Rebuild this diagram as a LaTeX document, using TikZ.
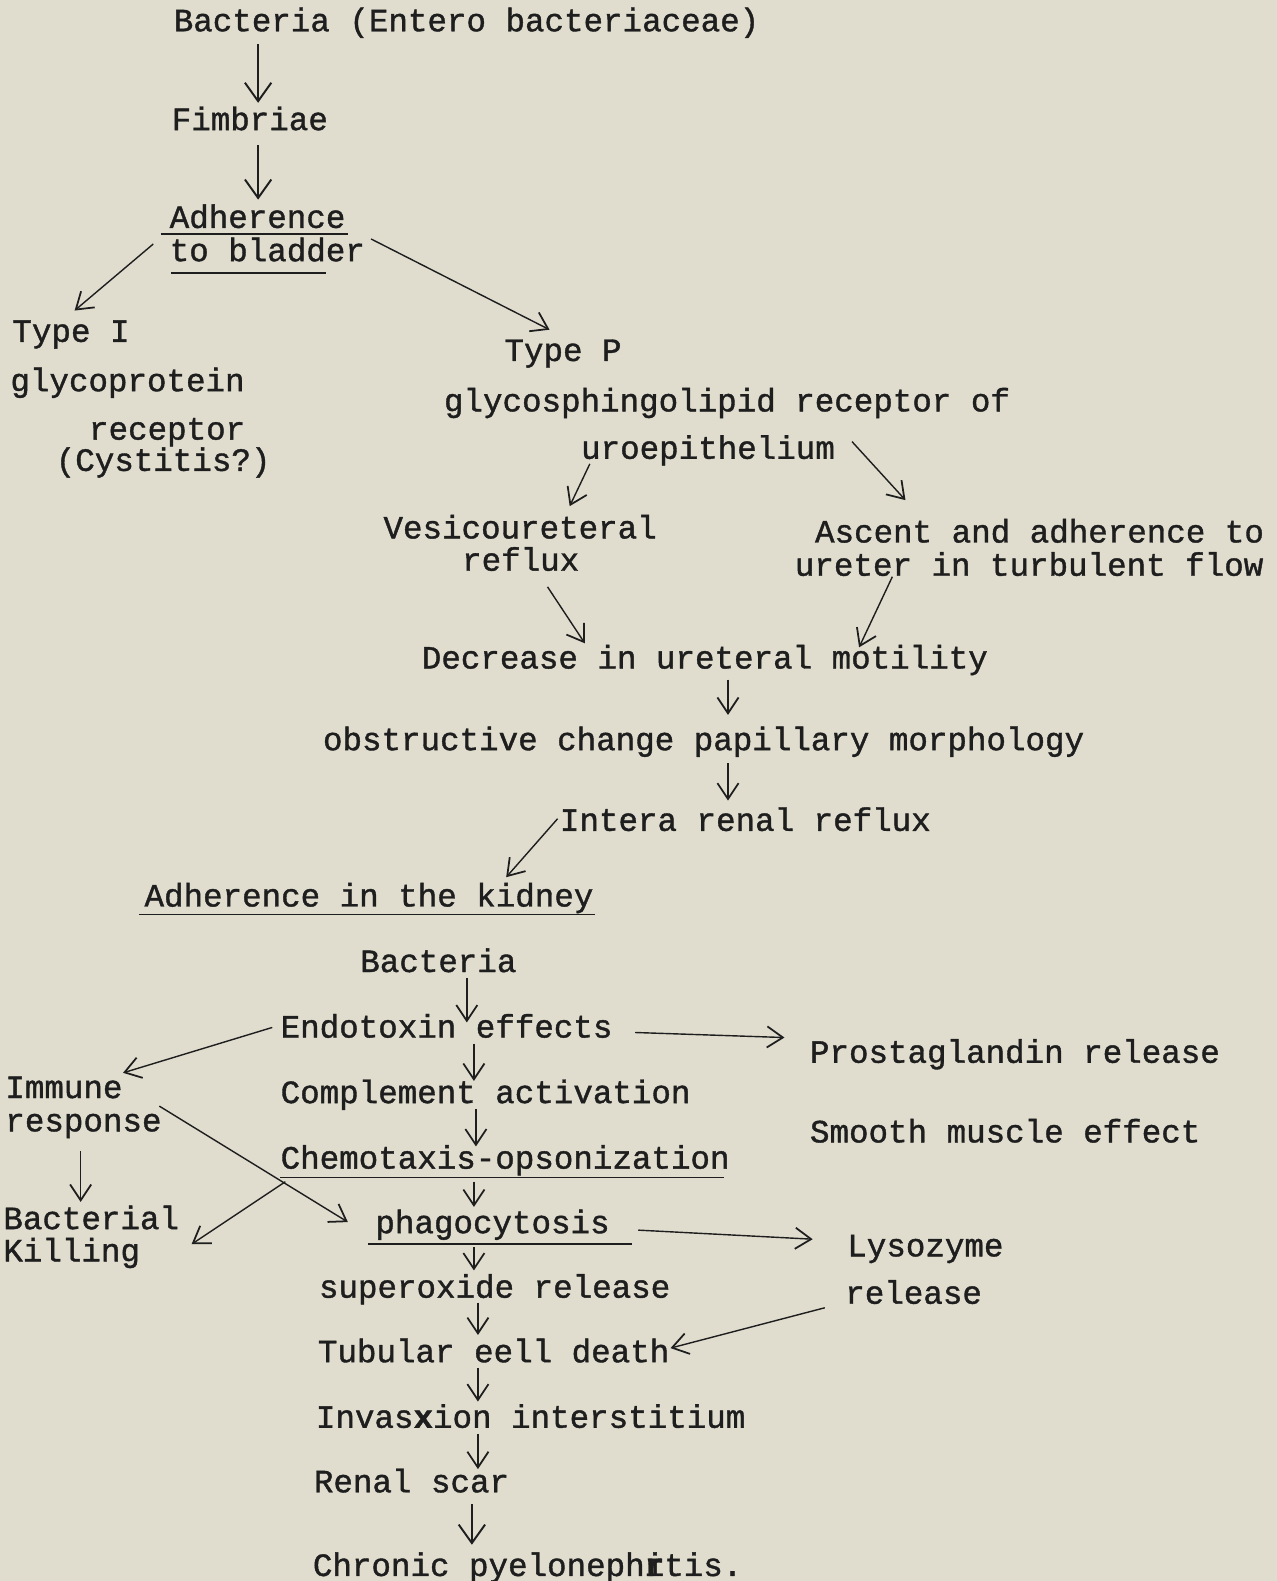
\documentclass[tikz,border=0pt]{standalone}
\usepackage{fontspec}
\newfontfamily\tw[FakeBold=1.2]{Liberation Mono}
\usetikzlibrary{arrows.meta,calc}
\definecolor{paper}{RGB}{224,221,207}
\definecolor{ink}{RGB}{30,30,30}
\tikzset{
  txt/.style={anchor=base west,inner sep=0pt,text=ink,font=\tw\fontsize{18.5}{22}\selectfont,yshift=-1.15pt},
  arr/.style={draw=ink,line width=0.8pt,-{Straight Barb[length=9pt,width=12pt,line width=1pt]}},
  bigarr/.style={draw=ink,line width=0.85pt,-{Straight Barb[length=10.5pt,width=15pt,line width=1.1pt]}},
  uline/.style={draw=ink,line width=0.9pt}
}
\begin{document}
\begin{tikzpicture}[x=0.02016cm,y=-0.02016cm]
\fill[paper] (0,0) rectangle (1266,1568);
\useasboundingbox (0,0) rectangle (1266,1568);
% nodes
\node[txt] (bact) at (172,29) {Bacteria (Entero bacteriaceae)};
\node[txt] (fimb) at (170,127) {Fimbriae};
\node[txt] (adh) at (168,224) {Adherence};
\node[txt] (blad) at (168,257) {to bladder};
\node[txt] (t1) at (12,337) {Type I};
\node[txt] (glyco) at (10,386) {glycoprotein};
\node[txt] (rec) at (88,434) {receptor};
\node[txt] (cyst) at (55,465) {(Cystitis?)};
\node[txt] (tp) at (500,356) {Type P};
\node[txt] (gsl) at (440,406) {glycosphingolipid receptor of};
\node[txt] (uro) at (576,453) {uroepithelium};
\node[txt] (vesi) at (380,532) {Vesicoureteral};
\node[txt] (vesi2) at (458,564) {reflux};
\node[txt] (asc) at (808,536) {Ascent and adherence to};
\node[txt] (asc2) at (788,569) {ureter in turbulent flow};
\node[txt] (dec) at (418,661) {Decrease in ureteral motility};
\node[txt] (obs) at (320,742) {obstructive change papillary morphology};
\node[txt] (irr) at (555,822) {Intera renal reflux};
\node[txt] (adk) at (143,897) {Adherence in the kidney};
\node[txt] (bact2) at (357,962) {Bacteria};
\node[txt] (endo) at (278,1027) {Endotoxin effects};
\node[txt] (prost) at (803,1052) {Prostaglandin release};
\node[txt] (imm) at (5,1087) {Immune};
\node[txt] (resp) at (5,1120) {response};
\node[txt] (comp) at (278,1092) {Complement activation};
\node[txt] (smooth) at (803,1131) {Smooth muscle effect};
\node[txt] (chemo) at (278,1157) {Chemotaxis-opsonization};
\node[txt] (phago) at (372,1221) {phagocytosis};
\node[txt] (bk) at (3,1217) {Bacterial};
\node[txt] (bk2) at (3,1249) {Killing};
\node[txt] (lyso) at (840,1244) {Lysozyme};
\node[txt] (lyso2) at (838,1291) {release};
\node[txt] (sup) at (316,1285) {superoxide release};
\node[txt] (tub) at (315,1349) {Tubular eell death};
\node[txt] (inv) at (313,1414) {Invas{\bfseries x}ion interstitium};
\node[txt] (scar) at (311,1478) {Renal scar};
\node[txt] (chron) at (310,1561) {Chronic pyeloneph\makebox[0pt][l]{\bfseries r}itis.};
% underlines
\draw[uline] ($(adh.base west)+(-8,6)$) -- ($(adh.base west)+(177,6)$);
\draw[uline] ($(blad.base west)+(2,12)$) -- ($(blad.base west)+(155,12)$);
\draw[uline] ($(adk.base west)+(-5,8)$) -- ($(adk.base west)+(447,8)$);
\draw[uline] ($(chemo.base west)+(0,9)$) -- ($(chemo.base west)+(440,9)$);
\draw[uline] ($(phago.base west)+(-7,11)$) -- ($(phago.base west)+(255,11)$);
% arrows
\draw[bigarr] ($(bact.base west)+(84,13)$) -- ($(fimb.base west)+(86,-27)$);
\draw[bigarr] ($(fimb.base west)+(86,15)$) -- ($(adh.base west)+(88,-28)$);
\draw[arr] ($(blad.base west)+(-16,-17)$) -- ($(t1.base west)+(62,-31)$);
\draw[arr] ($(blad.base west)+(200,-22)$) -- ($(tp.base west)+(45,-31)$);
\draw[arr] ($(uro.base west)+(9,5)$) -- ($(vesi.base west)+(185,-32)$);
\draw[arr] ($(uro.base west)+(269,-17)$) -- ($(asc.base west)+(90,-42)$);
\draw[arr] ($(vesi2.base west)+(85,16)$) -- ($(dec.base west)+(162,-25)$);
\draw[arr] ($(asc2.base west)+(97,1)$) -- ($(dec.base west)+(434,-21)$);
\draw[arr] ($(dec.base west)+(304,11)$) -- ($(obs.base west)+(402,-35)$);
\draw[arr] ($(obs.base west)+(402,13)$) -- ($(irr.base west)+(167,-30)$);
\draw[arr] ($(irr.base west)+(-2,-12)$) -- ($(adk.base west)+(359,-29)$);
\draw[arr] ($(bact2.base west)+(106,6)$) -- ($(endo.base west)+(185,-15)$);
\draw[arr] ($(endo.base west)+(-8,-10)$) -- ($(imm.base west)+(117,-25)$);
\draw[arr] ($(endo.base west)+(352,-5)$) -- ($(prost.base west)+(-25,-25)$);
\draw[arr] ($(endo.base west)+(192,6)$) -- ($(comp.base west)+(192,-22)$);
\draw[arr] ($(comp.base west)+(194,6)$) -- ($(chemo.base west)+(194,-22)$);
\draw[arr] ($(resp.base west)+(75,20)$) -- ($(bk.base west)+(77,-27)$);
\draw[arr] ($(resp.base west)+(153,-25)$) -- ($(phago.base west)+(-27,-11)$);
\draw[arr] ($(chemo.base west)+(5,13)$) -- ($(bk.base west)+(187,15)$);
\draw[arr] ($(chemo.base west)+(192,13)$) -- ($(phago.base west)+(98,-26)$);
\draw[arr] ($(phago.base west)+(261,-3)$) -- ($(lyso.base west)+(-34,-17)$);
\draw[arr] ($(phago.base west)+(98,14)$) -- ($(sup.base west)+(154,-27)$);
\draw[arr] ($(sup.base west)+(158,5)$) -- ($(tub.base west)+(159,-27)$);
\draw[arr] ($(lyso2.base west)+(-20,4)$) -- ($(tub.base west)+(350,-14)$);
\draw[arr] ($(tub.base west)+(159,6)$) -- ($(inv.base west)+(161,-26)$);
\draw[arr] ($(inv.base west)+(161,6)$) -- ($(scar.base west)+(163,-23)$);
\draw[bigarr] ($(scar.base west)+(157,12)$) -- ($(chron.base west)+(158,-31)$);
\end{tikzpicture}
\end{document}
